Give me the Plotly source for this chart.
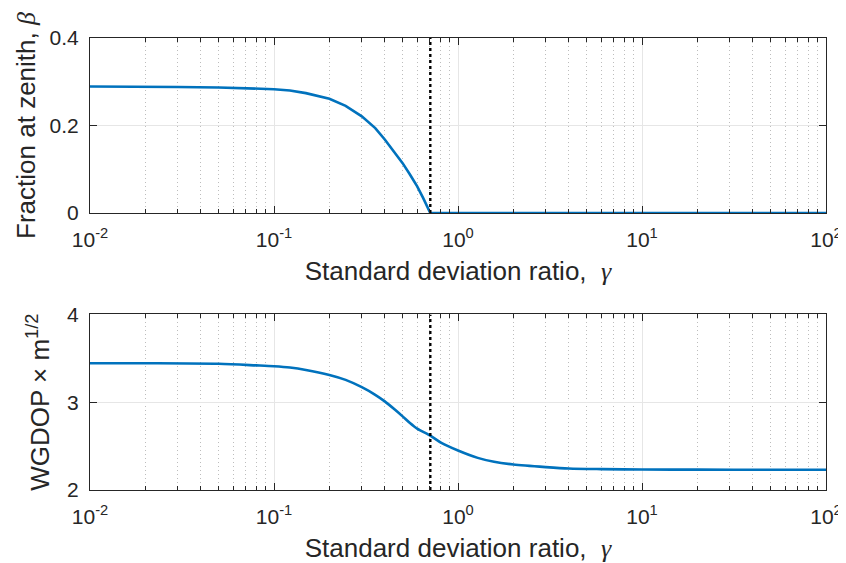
import plotly.graph_objects as go
from plotly.subplots import make_subplots

# ---- data ----
gamma_top = [0.01, 0.02, 0.03, 0.05, 0.08, 0.1, 0.122, 0.149, 0.2, 0.245, 0.3, 0.355,
             0.4, 0.455, 0.5, 0.548, 0.6, 0.647, 0.707, 1.0, 10.0, 100.0]
beta_top = [0.289, 0.289, 0.288, 0.287, 0.284, 0.283, 0.280, 0.274, 0.261, 0.245, 0.221, 0.194,
            0.168, 0.137, 0.114, 0.088, 0.061, 0.034, 0.0, 0.0, 0.0, 0.0]

gamma_bot = [0.01, 0.02, 0.05, 0.08, 0.1, 0.122, 0.149, 0.2, 0.245, 0.3, 0.355, 0.4, 0.455,
             0.5, 0.548, 0.6, 0.707, 0.812, 1.0, 1.28, 1.57, 2.0, 3.0, 4.0, 6.0, 10.0, 20.0,
             50.0, 100.0]
wgdop_bot = [3.445, 3.444, 3.438, 3.42, 3.41, 3.395, 3.368, 3.311, 3.255, 3.172, 3.085, 3.010,
             2.914, 2.839, 2.763, 2.699, 2.62, 2.537, 2.45, 2.366, 2.321, 2.290, 2.261, 2.245,
             2.238, 2.234, 2.232, 2.231, 2.231]

gamma_threshold = [0.7071]

x_tickvals = [0.01, 0.1, 1, 10, 100]
x_ticktext = ["10<sup>-2</sup>", "10<sup>-1</sup>", "10<sup>0</sup>", "10<sup>1</sup>", "10<sup>2</sup>"]
top_yticks = [0, 0.2, 0.4]
top_yticktext = ["0", "0.2", "0.4"]
bot_yticks = [2, 3, 4]
bot_yticktext = ["2", "3", "4"]

# ---- styling ----
BLUE = "#0072BD"
AX = "#262626"
GRID = "#e6e6e6"
MINORGRID = "#bdbdbd"
FONT = "Liberation Sans, Arial, Helvetica, sans-serif"
SERIF = "Liberation Serif, Times New Roman, serif"
TICKF = 21
TITLEF = 26

fig = make_subplots(rows=2, cols=1, vertical_spacing=0.2)

fig.add_trace(go.Scatter(x=gamma_top, y=beta_top, mode="lines",
                         line=dict(color=BLUE, width=2.6)), row=1, col=1)
fig.add_trace(go.Scatter(x=gamma_threshold * 2, y=[top_yticks[0], top_yticks[-1]], mode="lines",
                         line=dict(color="black", width=2.4, dash="dot")), row=1, col=1)

fig.add_trace(go.Scatter(x=gamma_bot, y=wgdop_bot, mode="lines", line_shape="spline",
                         line=dict(color=BLUE, width=2.6, smoothing=0.8)), row=2, col=1)
fig.add_trace(go.Scatter(x=gamma_threshold * 2, y=[bot_yticks[0], bot_yticks[-1]], mode="lines",
                         line=dict(color="black", width=2.4, dash="dot")), row=2, col=1)

xtitle = ("Standard deviation ratio,  <span style='font-family:" + SERIF +
          "'><i>γ</i></span>")

common_x = dict(
    type="log", range=[-2, 2], tickvals=x_tickvals, ticktext=x_ticktext,
    ticks="inside", ticklen=7, tickcolor=AX, tickwidth=1,
    showline=True, linecolor=AX, linewidth=1, mirror="ticks",
    showgrid=True, gridcolor=GRID, gridwidth=1, zeroline=False,
    tickfont=dict(size=TICKF, color=AX, family=FONT),
    ticklabelstandoff=8,
    minor=dict(ticks="inside", ticklen=4, tickcolor=AX, dtick="D1",
               showgrid=True, gridcolor=MINORGRID, griddash="1px,3px", gridwidth=1),
    title=dict(text=xtitle, font=dict(size=TITLEF, color=AX, family=FONT), standoff=11),
)
common_y = dict(
    ticks="inside", ticklen=7, tickcolor=AX, tickwidth=1,
    showline=True, linecolor=AX, linewidth=1, mirror="ticks",
    showgrid=True, gridcolor=GRID, gridwidth=1, zeroline=False,
    tickfont=dict(size=TICKF, color=AX, family=FONT),
    ticklabelstandoff=6,
)

fig.update_xaxes(**common_x)
fig.update_yaxes(**common_y)

fig.update_yaxes(range=[0, 0.4], tickvals=top_yticks, ticktext=top_yticktext,
                 title=dict(text="Fraction at zenith, <span style='font-family:" + SERIF +
                            "'><i>β</i></span>",
                            font=dict(size=TITLEF, color=AX, family=FONT), standoff=6),
                 row=1, col=1)
fig.update_yaxes(range=[2, 4], tickvals=bot_yticks, ticktext=bot_yticktext,
                 title=dict(text="WGDOP × m<sup>1/2</sup>",
                            font=dict(size=TITLEF, color=AX, family=FONT), standoff=10),
                 row=2, col=1)

fig.update_layout(
    width=846, height=563,
    margin=dict(l=82, r=21, t=30, b=81),
    paper_bgcolor="white", plot_bgcolor="white",
    showlegend=False,
    font=dict(family=FONT, color=AX),
)
fig.layout.yaxis.domain = [0.6128, 1.0]
fig.layout.yaxis2.domain = [0.0, 0.3883]

fig.write_html("out.html")
